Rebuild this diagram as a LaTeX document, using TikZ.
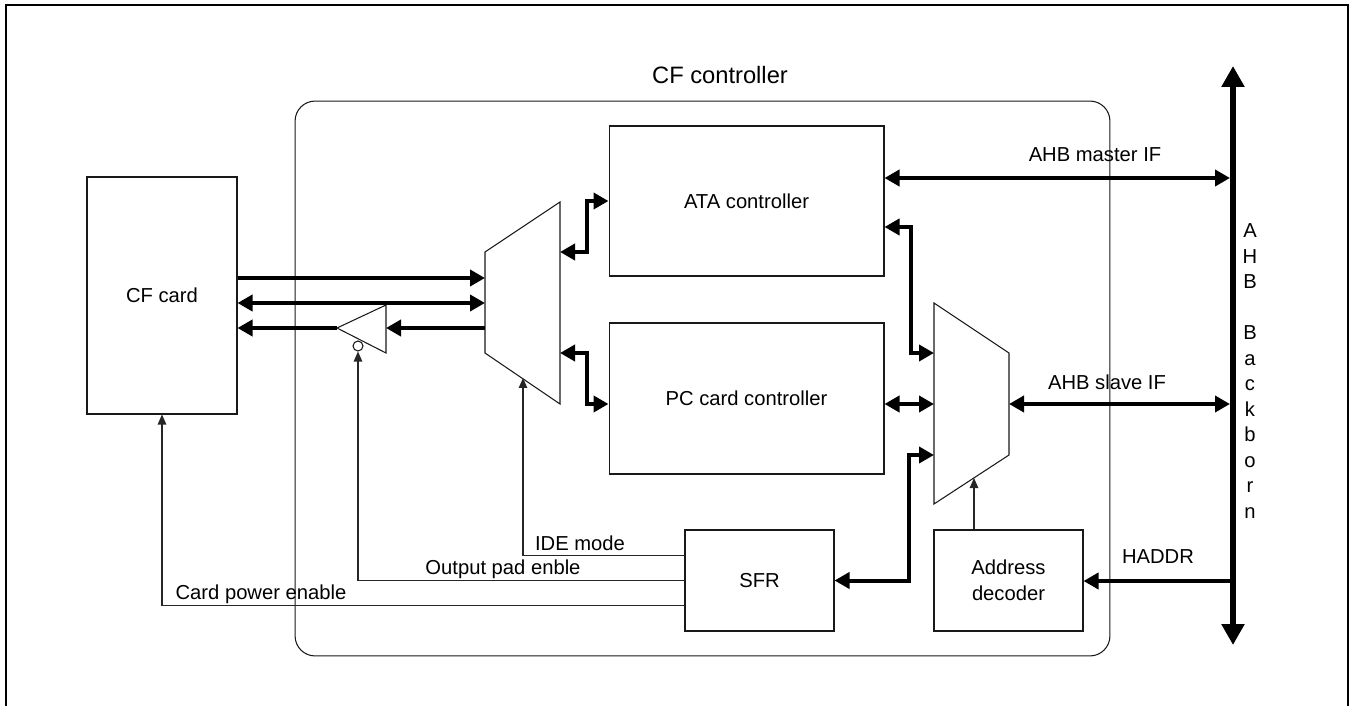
\documentclass[tikz,border=0pt]{standalone}
\usepackage{fontspec}
\setmainfont{Liberation Sans}
\usetikzlibrary{arrows.meta,positioning}

\begin{document}
\begin{tikzpicture}[
    x=0.02cm, y=-0.02cm,
    block/.style={rectangle, draw=black!90, line width=0.6pt, font=\fontsize{11.5}{13.8}\selectfont, align=center, inner sep=1pt},
    lbl/.style={font=\fontsize{11.5}{13.8}\selectfont, inner sep=0pt},
    mux/.style={draw=black!90, line width=0.6pt},
    bus/.style={line width=0.08cm, >={Triangle[length=0.3cm,width=0.32cm]}},
    ctl/.style={draw=black!85, line width=0.65pt, >={Triangle[length=0.2cm,width=0.17cm]}}
]
\useasboundingbox (0,0) rectangle (1353,706);
\draw[line width=0.05cm] (6,706) -- (6,5) -- (1348,5) -- (1348,706);

\node[draw=black!90, line width=0.6pt, rounded corners=0.4cm, minimum width=16.3cm, minimum height=11.1cm] (ctrl) at (702.5,378.5) {};
\node[font=\fontsize{13.5}{16}\selectfont, inner sep=0pt] (title) at (720,75) {CF controller};

\node[block, minimum width=3.0cm, minimum height=4.74cm] (cfcard) at (162,295.5) {CF card};
\node[block, minimum width=5.5cm, minimum height=3.0cm] (ata) at (746.5,201) {ATA controller};
\node[block, minimum width=5.5cm, minimum height=3.02cm] (pcc) at (746.5,398.5) {PC card controller};
\node[block, minimum width=2.98cm, minimum height=2.02cm] (sfr) at (759.5,580.5) {SFR};
\node[block, minimum width=2.98cm, minimum height=2.02cm, font=\fontsize{11.5}{15}\selectfont] (addr) at (1008.5,580.5) {Address\\decoder};

\draw[mux] (485,252) -- (560,202) -- (560,404) -- (485,353) -- cycle;
\coordinate (lmL1) at (485,278);
\coordinate (lmL2) at (485,303);
\coordinate (lmL3) at (485,328);
\coordinate (lmR1) at (560,252);
\coordinate (lmR2) at (560,353);
\coordinate (lmB) at (523,378);

\draw[mux] (934,303) -- (1009,353) -- (1009,455) -- (934,504) -- cycle;
\coordinate (rmL1) at (934,353);
\coordinate (rmL2) at (934,404);
\coordinate (rmL3) at (934,455);
\coordinate (rmR) at (1009,404);
\coordinate (rmB) at (974,478);

\draw[mux] (386,305) -- (386,353) -- (337,328) -- cycle;
\coordinate (bufR) at (386,328);
\coordinate (bufT) at (337,328);
\node[draw=black!90, circle, line width=0.6pt, minimum size=0.2cm, inner sep=0pt] (bub) at (358,346) {};

\coordinate (bbtop) at (1233,66);
\coordinate (bbbot) at (1233,645);
\coordinate (mIF) at (1230,178);
\coordinate (sIF) at (1230,404);
\coordinate (hIF) at (1233,581);
\draw[line width=0.13cm, {Triangle[length=0.42cm,width=0.44cm]}-{Triangle[length=0.42cm,width=0.44cm]}] (bbbot) -- (bbtop);
\node[font=\fontsize{11.5}{14.5}\selectfont, align=center, inner sep=0pt] (bbtxt) at (1250,371) {A\\H\\B\\~\\B\\a\\c\\k\\b\\o\\r\\n};

\draw[bus,->] (cfcard.east |- lmL1) -- (lmL1);
\draw[bus,<->] (cfcard.east |- lmL2) -- (lmL2);
\draw[bus,->] (lmL3) -- (bufR);
\draw[bus,->] (bufT) -- (cfcard.east |- bufT);

\draw[bus,<->] (ata.west) -- ++(-22,0) |- (lmR1);
\draw[bus,<->] (pcc.west |- rmL2) -- ++(-22,0) |- (lmR2);
\draw[bus,<->] ([yshift=-0.52cm]ata.east) -- ++(26,0) |- (rmL1);
\draw[bus,<->] (pcc.east |- rmL2) -- (rmL2);
\draw[bus,<->] (sfr.east) -- ++(74,0) |- (rmL3);

\draw[bus,<->] (ata.east |- mIF) -- (mIF);
\draw[bus,<->] (rmR) -- (sIF);
\draw[bus,->] (hIF) -- (addr.east |- hIF);
\node[lbl] (mIFlbl) at (1095,155) {AHB master IF};
\node[lbl] (sIFlbl) at (1107,382) {AHB slave IF};
\node[lbl] (hIFlbl) at (1158,557) {HADDR};

\draw[ctl,->] (rmB |- addr.north) -- (rmB);
\draw[ctl,->] ([yshift=0.5cm]sfr.west) -| (lmB);
\draw[ctl,->] (sfr.west) -| (bub.south);
\draw[ctl,->] ([yshift=-0.5cm]sfr.west) -| (cfcard.south);
\node[lbl] (idelbl) at (580,543) {IDE mode};
\node[lbl] (padlbl) at (503,569) {Output pad enble};
\node[lbl] (pwrlbl) at (261,594) {Card power enable};
\end{tikzpicture}
\end{document}
